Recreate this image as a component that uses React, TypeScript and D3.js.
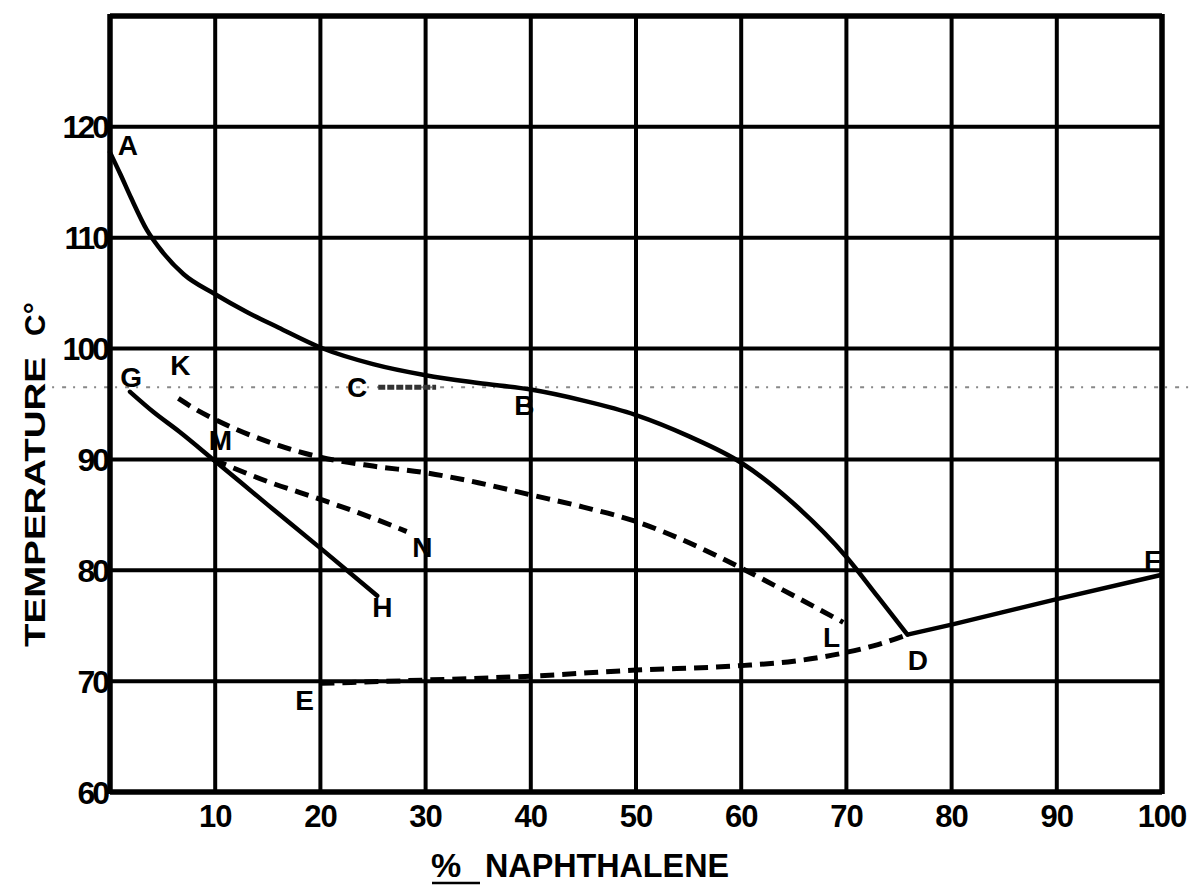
import { useEffect, useRef } from 'react';
import * as d3 from 'd3';

// freezing point diagram, % naphthalene vs temperature
const xTicks = [10, 20, 30, 40, 50, 60, 70, 80, 90, 100];
const yTicks = [60, 70, 80, 90, 100, 110, 120];
const xGrid = [0, 10, 20, 30, 40, 50, 60, 70, 80, 90, 100];
const yGrid = [60, 70, 80, 90, 100, 110, 120, 130];

// A -> B -> D (solid)
const curveABD: [number, number][] = [
  [0, 117.7], [1, 115.7], [2, 113.6], [3.5, 110.7], [5, 108.7], [7, 106.7],
  [10, 104.9], [13, 103.3], [16, 101.9], [20, 100.1], [25, 98.6], [30, 97.6],
  [35, 96.9], [40, 96.3], [45, 95.3], [50, 94.0], [55, 92.1], [60, 89.7],
  [65, 86.0], [70, 81.2], [73, 77.6], [75.8, 74.2],
];
// D -> F (solid)
const curveDF: [number, number][] = [[75.8, 74.2], [80, 75.1], [90, 77.4], [100, 79.6]];
// E -> D (dashed)
const curveED: [number, number][] = [
  [20, 69.8], [30, 70.1], [40, 70.45], [50, 71.0], [60, 71.4], [65, 71.8],
  [70, 72.6], [73, 73.3], [75.8, 74.2],
];
// K -> L (dashed)
const curveKL: [number, number][] = [
  [6.5, 95.5], [8, 94.6], [10, 93.6], [15, 91.6], [20, 90.2], [25, 89.4],
  [30, 88.8], [35, 87.9], [40, 86.8], [45, 85.7], [50, 84.4], [55, 82.5],
  [60, 80.2], [65, 77.7], [69.7, 75.3],
];
// G -> M -> H (solid)
const curveGH: [number, number][] = [
  [1.9, 96.1], [4.1, 94.3], [6.6, 92.5], [9.8, 90.0], [15, 85.9], [20, 82.0], [25.4, 77.7],
];
// M -> N (dashed)
const curveMN: [number, number][] = [[9.8, 90.0], [15, 88.0], [20, 86.4], [25, 84.7], [28.2, 83.5]];
// faint dotted line at the transition temperature, and the short C stroke
const dottedLine: [number, number][] = [[-7.5, 96.5], [103, 96.5]];
const curveC: [number, number][] = [[25.5, 96.5], [31, 96.5]];

const pointLabels = ['A', 'G', 'K', 'M', 'C', 'B', 'N', 'H', 'E', 'L', 'D', 'F'];
const labelX = [1.7, 2.0, 6.7, 10.5, 23.5, 39.4, 29.7, 25.9, 18.5, 68.6, 76.8, 99.1];
const labelY = [118.4, 97.4, 98.5, 91.8, 96.5, 94.9, 82.1, 76.7, 68.3, 74.0, 71.9, 80.9];

export default function App() {
  const svgRef = useRef<SVGSVGElement>(null);
  const width = 1190;
  const height = 886;

  useEffect(() => {
    const svg = d3.select(svgRef.current);
    svg.selectAll('*').remove();

    const x = d3.scaleLinear().domain([0, 100]).range([110, 1162]);
    const y = d3.scaleLinear().domain([60, 130]).range([792, 16]);
    const font = "'Liberation Sans', 'DejaVu Sans', sans-serif";

    svg.append('rect').attr('width', width).attr('height', height).attr('fill', '#fff');

    // dotted line first, grid draws over it
    const line = d3.line<[number, number]>().x(d => x(d[0])).y(d => y(d[1]));
    svg.append('path')
      .attr('d', line(dottedLine))
      .attr('fill', 'none')
      .attr('stroke', '#888')
      .attr('stroke-width', 2)
      .attr('stroke-dasharray', '2 8 4 7');

    // grid
    const grid = svg.append('g').attr('stroke', '#000');
    grid.selectAll('line.v')
      .data(xGrid)
      .enter().append('line')
      .attr('x1', d => x(d)).attr('x2', d => x(d))
      .attr('y1', y(130) - 2).attr('y2', y(60) + 2)
      .attr('stroke-width', d => (d === 0 || d === 100 ? 5.5 : 4));
    grid.selectAll('line.h')
      .data(yGrid)
      .enter().append('line')
      .attr('y1', d => y(d)).attr('y2', d => y(d))
      .attr('x1', x(0)).attr('x2', x(100))
      .attr('stroke-width', d => (d === 60 || d === 130 ? 5.5 : 4));

    // curves
    const smooth = d3.line<[number, number]>()
      .x(d => x(d[0])).y(d => y(d[1]))
      .curve(d3.curveMonotoneX);

    [curveABD, curveGH].forEach(c => {
      svg.append('path')
        .attr('d', smooth(c))
        .attr('fill', 'none')
        .attr('stroke', '#000')
        .attr('stroke-width', 4.5)
        .attr('stroke-linecap', 'round');
    });
    svg.append('path')
      .attr('d', line(curveDF))
      .attr('fill', 'none')
      .attr('stroke', '#000')
      .attr('stroke-width', 4.5);

    [curveED, curveKL, curveMN].forEach(c => {
      svg.append('path')
        .attr('d', smooth(c))
        .attr('fill', 'none')
        .attr('stroke', '#000')
        .attr('stroke-width', 5)
        .attr('stroke-dasharray', '14 8');
    });

    svg.append('path')
      .attr('d', line(curveC))
      .attr('fill', 'none')
      .attr('stroke', '#333')
      .attr('stroke-width', 5)
      .attr('stroke-dasharray', '7 2');

    // point letters
    svg.append('g')
      .selectAll('text')
      .data(pointLabels)
      .enter().append('text')
      .attr('x', (d, i) => x(labelX[i]))
      .attr('y', (d, i) => y(labelY[i]))
      .attr('dy', '0.36em')
      .attr('text-anchor', 'middle')
      .style('font-family', font)
      .style('font-weight', 'bold')
      .style('font-size', '28px')
      .text(d => d);

    // tick labels
    svg.append('g')
      .selectAll('text')
      .data(yTicks)
      .enter().append('text')
      .attr('x', x(0) - 3)
      .attr('y', d => y(d))
      .attr('dy', '0.36em')
      .attr('text-anchor', 'end')
      .style('font-family', font)
      .style('font-weight', 'bold')
      .style('font-size', '32px')
      .style('letter-spacing', '-3px')
      .text(d => d);

    svg.append('g')
      .selectAll('text')
      .data(xTicks)
      .enter().append('text')
      .attr('x', d => x(d))
      .attr('y', y(60) + 35)
      .attr('text-anchor', 'middle')
      .style('font-family', font)
      .style('font-weight', 'bold')
      .style('font-size', '31px')
      .style('letter-spacing', '-1px')
      .text(d => d);

    // axis titles
    svg.append('text')
      .attr('transform', 'translate(45,647) rotate(-90)')
      .attr('textLength', 290)
      .attr('lengthAdjust', 'spacingAndGlyphs')
      .style('font-family', font)
      .style('font-weight', 'bold')
      .style('font-size', '30px')
      .text('TEMPERATURE');
    svg.append('text')
      .attr('transform', 'translate(45,336) rotate(-90)')
      .style('font-family', font)
      .style('font-weight', 'bold')
      .style('font-size', '30px')
      .text('C°');

    svg.append('text')
      .attr('x', 431)
      .attr('y', 877)
      .style('font-family', font)
      .style('font-weight', 'bold')
      .style('font-size', '34px')
      .text('%');
    svg.append('line')
      .attr('x1', 432).attr('x2', 480)
      .attr('y1', 883).attr('y2', 883)
      .attr('stroke', '#000')
      .attr('stroke-width', 2.5);
    svg.append('text')
      .attr('x', 485)
      .attr('y', 877)
      .attr('textLength', 244)
      .attr('lengthAdjust', 'spacingAndGlyphs')
      .style('font-family', font)
      .style('font-weight', 'bold')
      .style('font-size', '34px')
      .text('NAPHTHALENE');
  }, []);

  return (
    <svg
      ref={svgRef}
      width={width}
      height={height}
      style={{ position: 'absolute', left: 0, top: 0 }}
    />
  );
}
